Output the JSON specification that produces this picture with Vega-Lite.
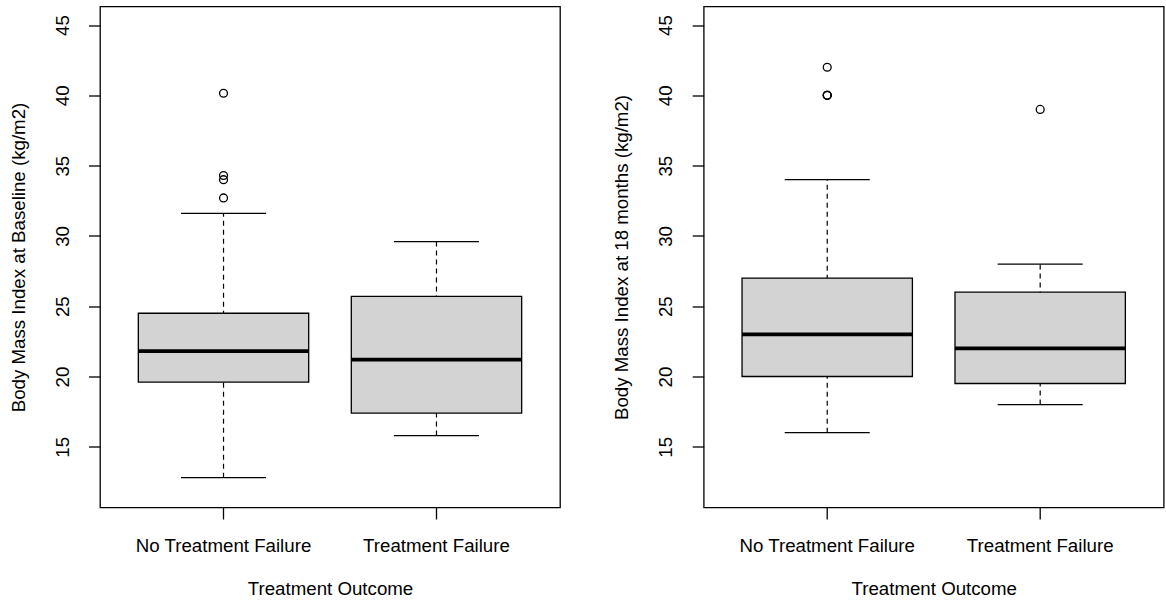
{
  "$schema": "https://vega.github.io/schema/vega-lite/v6.json",
  "background": "white",
  "padding": {"left": 8, "top": 5.5, "right": 0, "bottom": 0},
  "autosize": {"type": "pad"},
  "spacing": 50.7,
  "datasets": {
    "boxes": [
      {"panel": "baseline", "outcome": "No Treatment Failure", "lower": 12.8, "q1": 19.6, "median": 21.8, "q3": 24.5, "upper": 31.6},
      {"panel": "baseline", "outcome": "Treatment Failure", "lower": 15.8, "q1": 17.4, "median": 21.2, "q3": 25.7, "upper": 29.6},
      {"panel": "m18", "outcome": "No Treatment Failure", "lower": 16, "q1": 20, "median": 23, "q3": 27, "upper": 34},
      {"panel": "m18", "outcome": "Treatment Failure", "lower": 18, "q1": 19.5, "median": 22, "q3": 26, "upper": 28}
    ],
    "outliers": [
      {"panel": "baseline", "outcome": "No Treatment Failure", "value": 40.15},
      {"panel": "baseline", "outcome": "No Treatment Failure", "value": 34.3},
      {"panel": "baseline", "outcome": "No Treatment Failure", "value": 34.0},
      {"panel": "baseline", "outcome": "No Treatment Failure", "value": 32.7},
      {"panel": "m18", "outcome": "No Treatment Failure", "value": 42},
      {"panel": "m18", "outcome": "No Treatment Failure", "value": 40},
      {"panel": "m18", "outcome": "No Treatment Failure", "value": 40},
      {"panel": "m18", "outcome": "No Treatment Failure", "value": 40},
      {"panel": "m18", "outcome": "Treatment Failure", "value": 39}
    ]
  },
  "config": {
    "view": {"stroke": "black", "strokeWidth": 1.3},
    "font": "Liberation Sans",
    "axis": {
      "grid": false, "domain": false,
      "tickColor": "black", "tickSize": 11.5, "tickWidth": 1.3,
      "labelColor": "black", "titleColor": "black",
      "labelFontSize": 18.7, "titleFontSize": 18.7, "titleFontWeight": "normal",
      "labelFont": "Liberation Sans", "titleFont": "Liberation Sans"
    },
    "axisY": {"labelAngle": 270, "labelAlign": "center", "labelBaseline": "middle", "labelPadding": 26.5, "titlePadding": 25},
    "axisX": {"labelAngle": 0, "labelPadding": 17.7, "titlePadding": 24}
  },
  "hconcat": [
    {
      "width": 460, "height": 501,
      "transform": [{"filter": "datum.panel === 'baseline'"}],
      "data": {"name": "boxes"},
      "layer": [
        {
          "mark": {"type": "rule", "strokeDash": [5, 4], "color": "black", "strokeWidth": 1.2},
          "encoding": {
            "x": {"field": "outcome", "type": "nominal", "title": "Treatment Outcome", "scale": {"paddingInner": 0.2, "paddingOuter": 0.18}},
            "y": {"field": "lower", "type": "quantitative", "title": "Body Mass Index at Baseline (kg/m2)", "scale": {"domain": [10.68, 46.32], "nice": false, "zero": false}, "axis": {"values": [15, 20, 25, 30, 35, 40, 45]}},
            "y2": {"field": "upper"}
          }
        },
        {
          "mark": {"type": "bar", "fill": "#d3d3d3", "stroke": "black", "strokeWidth": 1.3},
          "encoding": {
            "x": {"field": "outcome", "type": "nominal", "title": "Treatment Outcome"},
            "y": {"field": "q1", "type": "quantitative", "title": "Body Mass Index at Baseline (kg/m2)"},
            "y2": {"field": "q3"}
          }
        },
        {
          "mark": {"type": "tick", "color": "black", "opacity": 1, "size": 85, "thickness": 1.3},
          "encoding": {
            "x": {"field": "outcome", "type": "nominal", "title": "Treatment Outcome"},
            "y": {"field": "lower", "type": "quantitative", "title": "Body Mass Index at Baseline (kg/m2)"}
          }
        },
        {
          "mark": {"type": "tick", "color": "black", "opacity": 1, "size": 85, "thickness": 1.3},
          "encoding": {
            "x": {"field": "outcome", "type": "nominal", "title": "Treatment Outcome"},
            "y": {"field": "upper", "type": "quantitative", "title": "Body Mass Index at Baseline (kg/m2)"}
          }
        },
        {
          "mark": {"type": "tick", "color": "black", "opacity": 1, "size": 170.4, "thickness": 3.8},
          "encoding": {
            "x": {"field": "outcome", "type": "nominal", "title": "Treatment Outcome"},
            "y": {"field": "median", "type": "quantitative", "title": "Body Mass Index at Baseline (kg/m2)"}
          }
        },
        {
          "data": {"name": "outliers"},
          "transform": [{"filter": "datum.panel === 'baseline'"}],
          "mark": {"type": "point", "shape": "circle", "filled": false, "stroke": "black", "strokeWidth": 1.3, "size": 62, "opacity": 1},
          "encoding": {
            "x": {"field": "outcome", "type": "nominal", "title": "Treatment Outcome"},
            "y": {"field": "value", "type": "quantitative", "title": "Body Mass Index at Baseline (kg/m2)"}
          }
        }
      ]
    },
    {
      "width": 460, "height": 501,
      "transform": [{"filter": "datum.panel === 'm18'"}],
      "data": {"name": "boxes"},
      "layer": [
        {
          "mark": {"type": "rule", "strokeDash": [5, 4], "color": "black", "strokeWidth": 1.2},
          "encoding": {
            "x": {"field": "outcome", "type": "nominal", "title": "Treatment Outcome", "scale": {"paddingInner": 0.2, "paddingOuter": 0.18}},
            "y": {"field": "lower", "type": "quantitative", "title": "Body Mass Index at 18 months (kg/m2)", "scale": {"domain": [10.68, 46.32], "nice": false, "zero": false}, "axis": {"values": [15, 20, 25, 30, 35, 40, 45]}},
            "y2": {"field": "upper"}
          }
        },
        {
          "mark": {"type": "bar", "fill": "#d3d3d3", "stroke": "black", "strokeWidth": 1.3},
          "encoding": {
            "x": {"field": "outcome", "type": "nominal", "title": "Treatment Outcome"},
            "y": {"field": "q1", "type": "quantitative", "title": "Body Mass Index at 18 months (kg/m2)"},
            "y2": {"field": "q3"}
          }
        },
        {
          "mark": {"type": "tick", "color": "black", "opacity": 1, "size": 85, "thickness": 1.3},
          "encoding": {
            "x": {"field": "outcome", "type": "nominal", "title": "Treatment Outcome"},
            "y": {"field": "lower", "type": "quantitative", "title": "Body Mass Index at 18 months (kg/m2)"}
          }
        },
        {
          "mark": {"type": "tick", "color": "black", "opacity": 1, "size": 85, "thickness": 1.3},
          "encoding": {
            "x": {"field": "outcome", "type": "nominal", "title": "Treatment Outcome"},
            "y": {"field": "upper", "type": "quantitative", "title": "Body Mass Index at 18 months (kg/m2)"}
          }
        },
        {
          "mark": {"type": "tick", "color": "black", "opacity": 1, "size": 170.4, "thickness": 3.8},
          "encoding": {
            "x": {"field": "outcome", "type": "nominal", "title": "Treatment Outcome"},
            "y": {"field": "median", "type": "quantitative", "title": "Body Mass Index at 18 months (kg/m2)"}
          }
        },
        {
          "data": {"name": "outliers"},
          "transform": [{"filter": "datum.panel === 'm18'"}],
          "mark": {"type": "point", "shape": "circle", "filled": false, "stroke": "black", "strokeWidth": 1.3, "size": 62, "opacity": 1},
          "encoding": {
            "x": {"field": "outcome", "type": "nominal", "title": "Treatment Outcome"},
            "y": {"field": "value", "type": "quantitative", "title": "Body Mass Index at 18 months (kg/m2)"}
          }
        }
      ]
    }
  ]
}
